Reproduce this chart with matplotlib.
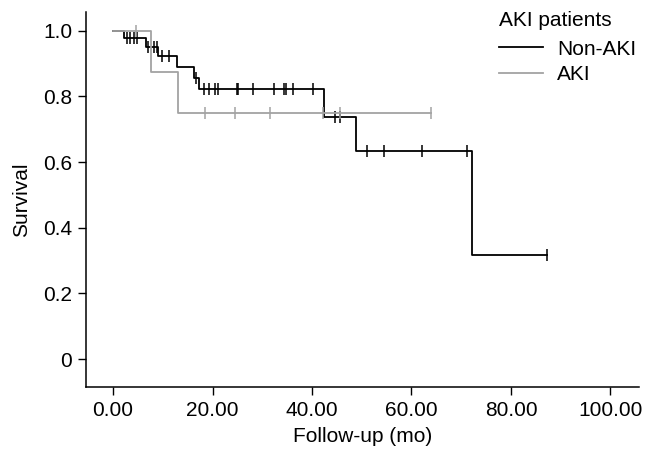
import numpy as np
import matplotlib.pyplot as plt

plt.rcParams['font.family'] = ['Liberation Sans', 'DejaVu Sans']

# Non-AKI group: event times, survival after each step, censored times
non_times = [0, 2.3, 6.6, 9.1, 12.8, 16.2, 17.2, 42.5, 48.9, 72.2]
non_surv = [1.0, 0.978, 0.949, 0.922, 0.889, 0.855, 0.822, 0.738, 0.635, 0.317]
non_end = 87.3
non_cens = [2.8, 3.5, 4.2, 4.9, 7.1, 8.2, 8.8, 9.9, 11.3, 16.6, 18.3, 19.3,
            20.4, 21.1, 25.0, 25.2, 28.1, 32.3, 34.3, 34.7, 36.2, 40.2, 44.7,
            45.7, 51.1, 54.5, 62.2, 71.2, 87.3]

# AKI group
aki_times = [0, 7.6, 13.0]
aki_surv = [1.0, 0.875, 0.75]
aki_end = 64.0
aki_cens = [4.6, 18.5, 24.5, 31.5, 42.3, 45.7, 64.0]

xticks = [0, 20, 40, 60, 80, 100]
xlabels = ["0.00", "20.00", "40.00", "60.00", "80.00", "100.00"]
yticks = [0, 0.2, 0.4, 0.6, 0.8, 1.0]
ylabels = ["0", "0.2", "0.4", "0.6", "0.8", "1.0"]

FS = 15


def km_line(ax, times, surv, end, cens, color, label):
    x = list(times) + [end]
    y = list(surv) + [surv[-1]]
    ax.step(x, y, where="post", color=color, lw=1.3, label=label)
    idx = np.searchsorted(times, cens, side="right") - 1
    cy = [surv[i] for i in idx]
    ax.plot(cens, cy, ls="none", marker="|", ms=8, mew=1.1, color=color)


fig = plt.figure(figsize=(6.53, 4.58), dpi=100)
ax = fig.add_axes([0.132, 0.155, 0.847, 0.818])

km_line(ax, non_times, non_surv, non_end, non_cens, "black", "Non-AKI")
km_line(ax, aki_times, aki_surv, aki_end, aki_cens, "#a3a3a3", "AKI")

ax.set_xlim(-5.4, 105.8)
ax.set_ylim(-0.085, 1.056)
ax.set_xticks(xticks)
ax.set_xticklabels(xlabels)
ax.set_yticks(yticks)
ax.set_yticklabels(ylabels)
ax.tick_params(labelsize=FS, length=6, width=1, direction="out", pad=4)
for s in ["left", "bottom"]:
    ax.spines[s].set_linewidth(1.1)
ax.spines["top"].set_visible(False)
ax.spines["right"].set_visible(False)
ax.set_xlabel("Follow-up (mo)", fontsize=FS, labelpad=5)
ax.set_ylabel("Survival", fontsize=FS, labelpad=9)

leg = ax.legend(title="AKI patients", loc="upper left",
                bbox_to_anchor=(0.742, 1.008), bbox_transform=fig.transFigure,
                frameon=False, fontsize=FS, title_fontsize=FS,
                handlelength=2.1, handletextpad=0.7, labelspacing=0.32,
                alignment="left", borderpad=0.2)
leg._legend_box.sep = 7

fig.savefig("out.png", dpi=100)
